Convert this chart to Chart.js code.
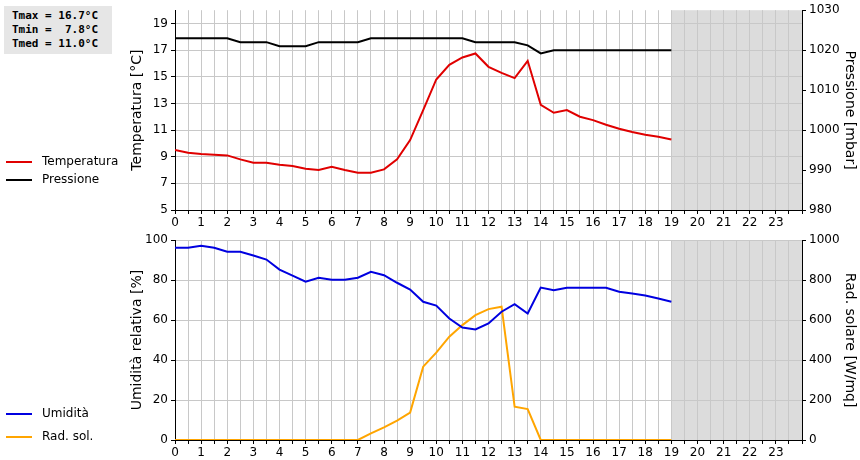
<!DOCTYPE html>
<html><head><meta charset="utf-8">
<script src="https://cdn.jsdelivr.net/npm/chart.js@4"></script>
<style>
body{margin:0;background:#fff;font-family:"DejaVu Sans",sans-serif;}
#wrap{position:relative;width:860px;height:460px;}
canvas{position:absolute;left:0;}
#stats{position:absolute;left:4px;top:6px;width:100px;background:#e6e6e6;font:bold 11px "DejaVu Sans Mono",monospace;padding:3px 0 3px 8px;white-space:pre;line-height:14px;}
.lg{position:absolute;left:6px;font-size:12px;}
.lg span{display:inline-block;width:26px;height:2px;vertical-align:middle;margin-right:10px;}
</style></head><body>
<div id="wrap">
<canvas id="c1" width="860" height="230" style="top:0"></canvas>
<canvas id="c2" width="860" height="230" style="top:230px"></canvas>
<div id="stats">Tmax = 16.7°C
Tmin =  7.8°C
Tmed = 11.0°C</div>
<div class="lg" style="top:154px"><span style="background:#e00000"></span>Temperatura</div>
<div class="lg" style="top:172px"><span style="background:#000"></span>Pressione</div>
<div class="lg" style="top:406px"><span style="background:#0000e0"></span>Umidità</div>
<div class="lg" style="top:429px"><span style="background:#ffa500"></span>Rad. sol.</div>
</div>
<script>
let hours = []
for(let i=0;i<=38;i++) hours.push(i/2)
let temperatura = [9.5,9.3,9.2,9.15,9.1,8.8,8.55,8.55,8.4,8.3,8.1,8.0,8.25,8.0,7.8,7.8,8.05,8.8,10.25,12.5,14.8,15.9,16.45,16.75,15.75,15.3,14.9,16.2,12.9,12.3,12.5,12.0,11.75,11.4,11.1,10.85,10.65,10.5,10.3]
let pressione = [1023,1023,1023,1023,1023,1022,1022,1022,1021,1021,1021,1022,1022,1022,1022,1023,1023,1023,1023,1023,1023,1023,1023,1022,1022,1022,1022,1021.2,1019.2,1020,1020,1020,1020,1020,1020,1020,1020,1020,1020]
let umidita = [96.2,96.2,97.2,96.2,94.2,94.2,92.3,90.3,85.3,82.3,79.2,81.2,80.2,80.2,81.2,84.2,82.5,78.7,75.3,69.2,67.3,60.8,56.3,55.3,58.3,64.2,68,63.3,76.3,75,76.2,76.2,76.2,76.2,74.2,73.3,72.3,70.8,69.2]
let radsol = [0,0,0,0,0,0,0,0,0,0,0,0,0,0,0,33,63,97,137,367,437,517,575,625,655,667,167,155,0,0,0,0,0,0,0,0,0,0,0]
let tempTicks = [5,7,9,11,13,15,17,19]
let pressTicks = [980,990,1000,1010,1020,1030]
let umTicks = [0,20,40,60,80,100]
let radTicks = [0,200,400,600,800,1000]

function pts(arr){ return arr.map((v,i)=>({x:hours[i],y:v})) }

const shade = {
  id:'shade',
  beforeDraw(chart){
    const a = chart.chartArea, xs = chart.scales.x, ctx = chart.ctx
    ctx.save()
    ctx.fillStyle = '#dcdcdc'
    const x1 = xs.getPixelForValue(19)
    ctx.fillRect(x1, a.top, a.right-x1, a.bottom-a.top)
    ctx.restore()
  },
  afterDraw(chart, args, opts){
    const a = chart.chartArea, ctx = chart.ctx
    const mid = (a.top+a.bottom)/2
    ctx.save()
    ctx.fillStyle = '#000'
    ctx.font = '14px "DejaVu Sans"'
    ctx.textAlign = 'center'
    ctx.textBaseline = 'middle'
    ctx.translate(a.left-38, mid); ctx.rotate(-Math.PI/2)
    ctx.fillText(opts.left, 0, 0)
    ctx.restore()
    ctx.save()
    ctx.fillStyle = '#000'
    ctx.font = '14px "DejaVu Sans"'
    ctx.textAlign = 'center'
    ctx.textBaseline = 'middle'
    ctx.translate(a.right+48, mid); ctx.rotate(Math.PI/2)
    ctx.fillText(opts.right, 0, 0)
    ctx.restore()
  }
}

function makeChart(id, ds, left, right){
  const font = {family:'DejaVu Sans', size:12}
  new Chart(document.getElementById(id), {
    type:'line',
    data:{datasets:ds},
    options:{
      responsive:false, animation:false,
      layout:{padding:{top:10,bottom:0,left:0,right:0}},
      plugins:{legend:{display:false}, tooltip:{enabled:false}, shade:{left:left.title, right:right.title}},
      elements:{point:{radius:0}, line:{borderWidth:2, tension:0}},
      scales:{
        x:{type:'linear', min:0, max:24,
          afterBuildTicks(s){ s.ticks = []; for(let i=0;i<=48;i++) s.ticks.push({value:i/2}) },
          ticks:{color:'#000', font, autoSkip:false, maxRotation:0, padding:2,
            callback:(v)=> (Number.isInteger(v) && v<24) ? v : ''},
          grid:{color:'#c8c8c8', tickColor:'#000', tickLength:4},
          border:{color:'#000'},
          afterFit(s){ s.height = 20 }},
        y:{position:'left', min:left.min, max:left.max,
          afterBuildTicks(s){ s.ticks = left.ticks.map(v=>({value:v})) },
          ticks:{color:'#000', font, callback:v=>v},
          grid:{color:'#c8c8c8', tickColor:'#000', tickLength:4},
          border:{color:'#000'},
          afterFit(s){ s.width = 175 }},
        y1:{position:'right', min:right.min, max:right.max,
          afterBuildTicks(s){ s.ticks = right.ticks.map(v=>({value:v})) },
          ticks:{color:'#000', font, callback:v=>v},
          grid:{drawOnChartArea:false, tickColor:'#000', tickLength:4},
          border:{color:'#000'},
          afterFit(s){ s.width = 58 }}
      }
    },
    plugins:[shade]
  })
}

makeChart('c1', [
  {data:pts(temperatura), borderColor:'#e00000', yAxisID:'y'},
  {data:pts(pressione), borderColor:'#000', yAxisID:'y1'}
], {min:5,max:20,ticks:tempTicks,title:'Temperatura [°C]'}, {min:980,max:1030,ticks:pressTicks,title:'Pressione [mbar]'})

makeChart('c2', [
  {data:pts(umidita), borderColor:'#0000e0', yAxisID:'y'},
  {data:pts(radsol), borderColor:'#ffa500', yAxisID:'y1'}
], {min:0,max:100,ticks:umTicks,title:'Umidità relativa [%]'}, {min:0,max:1000,ticks:radTicks,title:'Rad. solare [W/mq]'})
</script>
</body></html>
